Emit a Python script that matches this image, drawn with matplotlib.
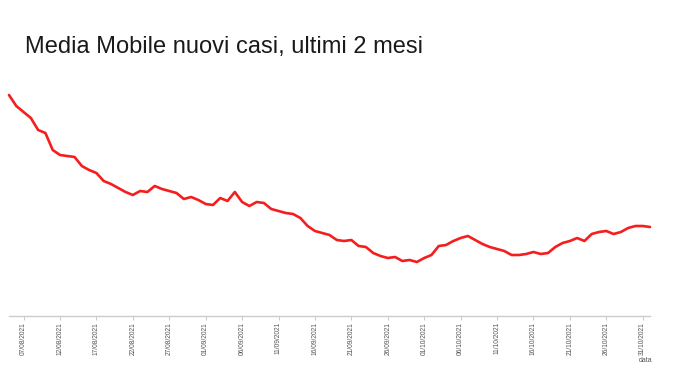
import matplotlib
matplotlib.use('Agg')
import matplotlib.pyplot as plt
import matplotlib.dates as mdates
import pandas as pd

plt.rcParams['font.family'] = ['Liberation Sans', 'DejaVu Sans']

# moving average of new cases, one value per day from 05/08/2021 (arbitrary units)
start_date = '2021-08-05'
media_mobile = [221, 210, 204, 198, 186, 183, 166, 161, 160, 159,
                150, 146, 143, 135, 132, 128, 124, 121, 125, 124,
                130, 127, 125, 123, 117, 119, 116, 112, 111, 118,
                115, 124, 114, 110, 114, 113, 107, 105, 103, 102,
                98, 90, 85, 83, 81, 76, 75, 76, 70, 69,
                63, 60, 58, 59, 55, 56, 54, 58, 61, 70,
                71, 75, 78, 80, 76, 72, 69, 67, 65, 61,
                61, 62, 64, 62, 63, 69, 73, 75, 78, 75,
                82, 84, 85, 82, 84, 88, 90, 90, 89]
tick_start = '2021-08-07'
tick_end = '2021-10-31'
title = 'Media Mobile nuovi casi, ultimi 2 mesi'
x_label = 'data'

dates = pd.date_range(start_date, periods=len(media_mobile), freq='D')
ticks = pd.date_range(tick_start, tick_end, freq='5D')

fig = plt.figure(figsize=(6.8, 3.69), dpi=100)
ax = fig.add_axes([9 / 680, 53 / 369, 641 / 680, 236 / 369])

ax.plot(dates, media_mobile, color='#f51e1e', linewidth=1.9,
        solid_joinstyle='round', solid_capstyle='round', clip_on=False)

ax.set_xlim(dates[0], dates[-1])
ax.set_ylim(0, 236)
ax.set_xticks(ticks)
ax.xaxis.set_major_formatter(mdates.DateFormatter('%d/%m/%Y'))
ax.tick_params(axis='x', labelrotation=90, labelsize=4.8, colors='#cccccc',
               labelcolor='#555555', length=3, width=0.8, pad=1.5)
ax.set_yticks([])

for s in ['top', 'right', 'left']:
    ax.spines[s].set_visible(False)
ax.spines['bottom'].set_color('#cccccc')
ax.spines['bottom'].set_linewidth(1)

fig.text(25 / 680, 1 - 52.5 / 369, title, fontsize=17, color='#1a1a1a', va='baseline', ha='left')
fig.text(652 / 680, 1 - 360 / 369, x_label, fontsize=5, color='#555555', va='center', ha='right')

plt.savefig('out.png', dpi=100)
